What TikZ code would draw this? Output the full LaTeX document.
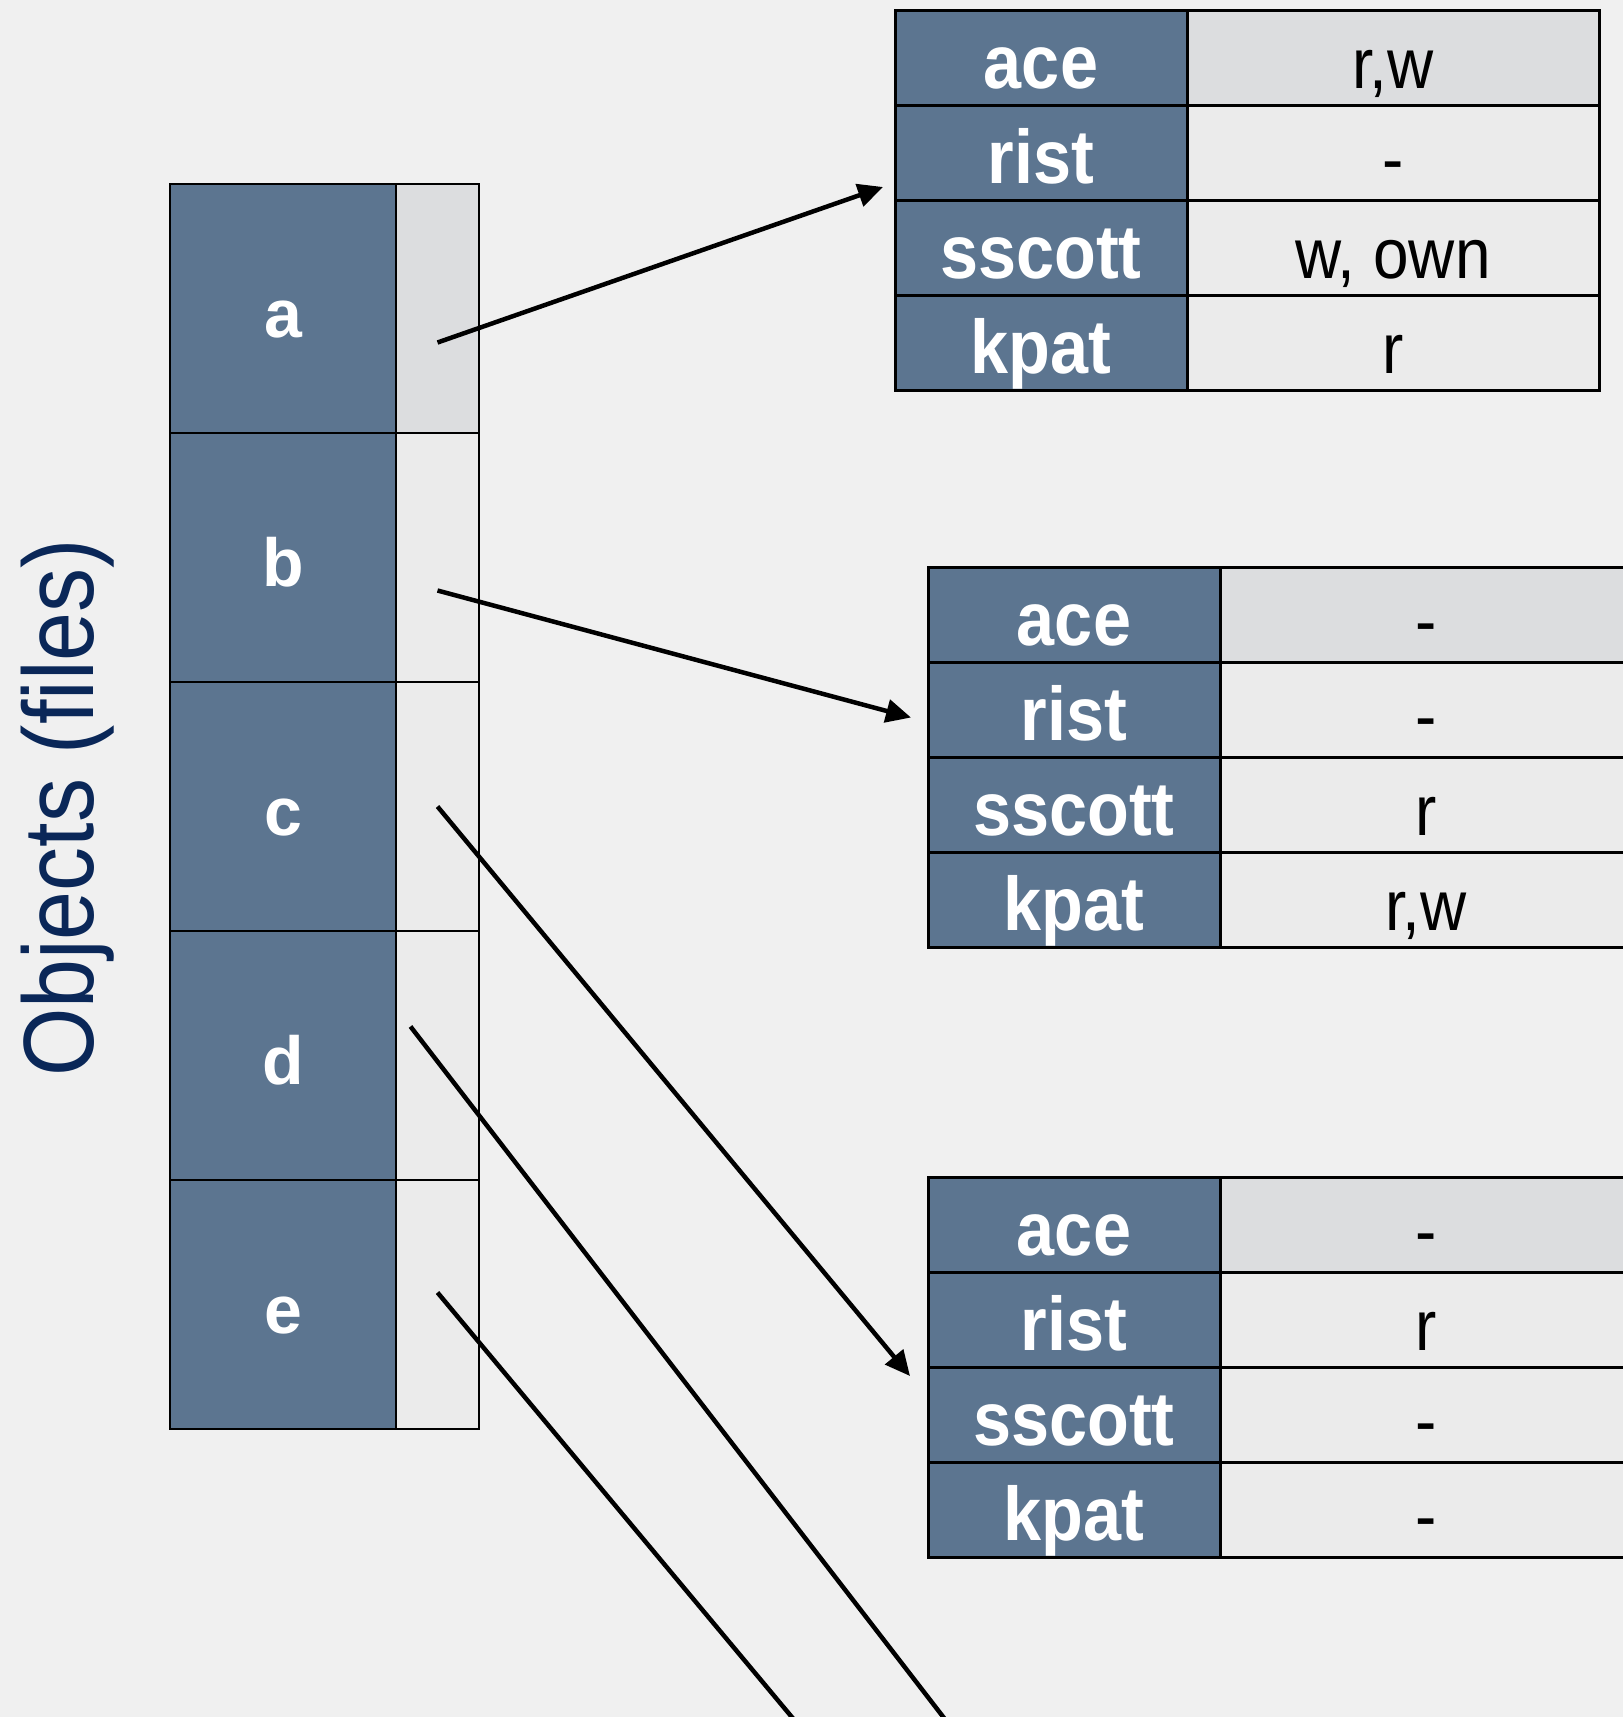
\documentclass[tikz,border=0pt]{standalone}
\usepackage{fontspec}
\setmainfont{Liberation Sans}
\newfontfamily\keyfont[FakeStretch=0.9]{Liberation Sans}
\newfontfamily\valfont[FakeStretch=0.9]{Liberation Sans}
\newfontfamily\sidefont[FakeStretch=0.88]{Liberation Sans}
\usetikzlibrary{arrows.meta,positioning}
\definecolor{cslate}{HTML}{5C7590}
\definecolor{clight}{HTML}{EBEBEB}
\definecolor{clighttop}{HTML}{DCDDDF}
\definecolor{cbg}{HTML}{F0F0F0}
\definecolor{cnavy}{HTML}{0A2758}

\begin{document}
\begin{tikzpicture}[x=1pt, y=1pt,
    cell/.style={draw, line width=3pt, inner sep=0pt, outer sep=0pt,
                 minimum height=95pt, text height=61pt, text depth=0pt},
    keycell/.style={cell, fill=cslate, text=white, minimum width=292pt,
                    font=\keyfont\bfseries\fontsize{76}{80}\selectfont},
    valcell/.style={cell, fill=clight, minimum width=412pt,
                    font=\valfont\fontsize{71}{80}\selectfont},
    topcell/.style={valcell, fill=clighttop},
    objcell/.style={draw, line width=2.5pt, inner sep=0pt, outer sep=0pt,
                    minimum height=249pt, minimum width=226pt, fill=cslate, text=white,
                    text height=57pt, text depth=0pt, font=\bfseries\fontsize{68}{72}\selectfont},
    aclcell/.style={objcell, fill=clight, minimum width=83pt},
    arr/.style={-{Triangle[length=25pt, width=23pt]}, line width=4.5pt},
]

% page and background
\useasboundingbox (0,0) rectangle (1623,-1717);
\clip (0,0) rectangle (1623,-1717);
\fill[cbg] (0,0) rectangle (1623,-1717);

% Side label
\node[rotate=90, anchor=base, text=cnavy, font=\sidefont\fontsize{100}{110}\selectfont]
    (objlabel) at (93,-808) {Objects (files)};

% Object column: name + ACL pointer slot
\node[objcell, anchor=north west] (obja) at (170,-184) {a};
\node[aclcell, fill=clighttop, right=0pt of obja] (acla) {};
\node[objcell, below=0pt of obja] (objb) {b};
\node[aclcell, right=0pt of objb] (aclb) {};
\node[objcell, below=0pt of objb] (objc) {c};
\node[aclcell, right=0pt of objc] (aclc) {};
\node[objcell, below=0pt of objc] (objd) {d};
\node[aclcell, right=0pt of objd] (acld) {};
\node[objcell, below=0pt of objd] (obje) {e};
\node[aclcell, right=0pt of obje] (acle) {};

% ACL for a
\node[keycell, anchor=north west] (t1ace) at (895,-10) {ace};
\node[topcell, right=0pt of t1ace]   (t1acev) {r,w};
\node[keycell, below=0pt of t1ace]   (t1rist) {rist};
\node[valcell, right=0pt of t1rist]  (t1ristv) {-};
\node[keycell, below=0pt of t1rist]  (t1sscott) {sscott};
\node[valcell, right=0pt of t1sscott] (t1sscottv) {w, own};
\node[keycell, below=0pt of t1sscott] (t1kpat) {kpat};
\node[valcell, right=0pt of t1kpat]  (t1kpatv) {r};

% ACL for b
\node[keycell, anchor=north west] (t2ace) at (928,-567) {ace};
\node[topcell, right=0pt of t2ace]   (t2acev) {-};
\node[keycell, below=0pt of t2ace]   (t2rist) {rist};
\node[valcell, right=0pt of t2rist]  (t2ristv) {-};
\node[keycell, below=0pt of t2rist]  (t2sscott) {sscott};
\node[valcell, right=0pt of t2sscott] (t2sscottv) {r};
\node[keycell, below=0pt of t2sscott] (t2kpat) {kpat};
\node[valcell, right=0pt of t2kpat]  (t2kpatv) {r,w};

% ACL for c
\node[keycell, anchor=north west] (t3ace) at (928,-1177) {ace};
\node[topcell, right=0pt of t3ace]   (t3acev) {-};
\node[keycell, below=0pt of t3ace]   (t3rist) {rist};
\node[valcell, right=0pt of t3rist]  (t3ristv) {r};
\node[keycell, below=0pt of t3rist]  (t3sscott) {sscott};
\node[valcell, right=0pt of t3sscott] (t3sscottv) {-};
\node[keycell, below=0pt of t3sscott] (t3kpat) {kpat};
\node[valcell, right=0pt of t3kpat]  (t3kpatv) {-};

% ── Pointers ──
\draw[arr] ([yshift=-34pt]acla.center) -- ([xshift=-12pt, yshift=13pt]t1rist.south west);
\draw[arr] ([yshift=-33pt]aclb.center) -- ([xshift=-17pt, yshift=-8pt]t2rist.west);
\draw[arr] (aclc.center) -- ([xshift=-18pt, yshift=-9pt]t3rist.south west);

% d and e point to tables off the page
\coordinate (dout) at (961,-1740);
\coordinate (eout) at (811,-1740);
\draw[line width=4.5pt] ([xshift=-27pt, yshift=29pt]acld.center) -- (dout);
\draw[line width=4.5pt] ([yshift=12pt]acle.center) -- (eout);

\end{tikzpicture}
\end{document}
